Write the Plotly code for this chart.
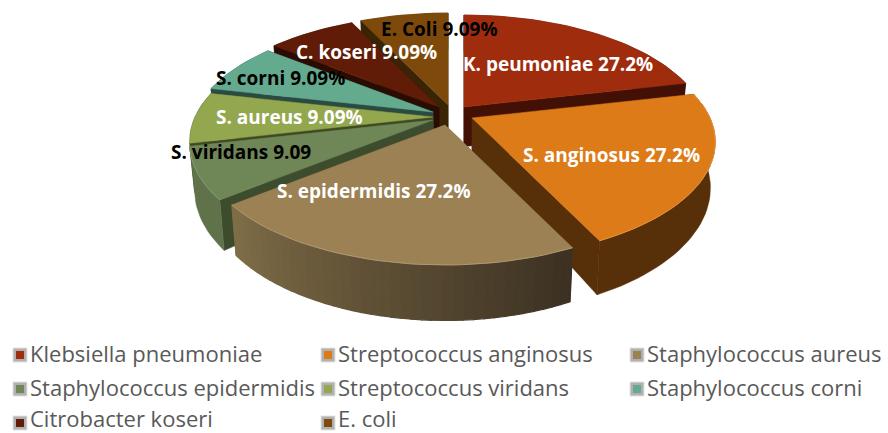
import math
import plotly.graph_objects as go

# ---- data ----
values = [27.2, 27.2, 27.2, 9.09, 9.09, 9.09, 9.09, 9.09]
slice_labels = ["K. peumoniae 27.2%", "S. anginosus 27.2%", "S. epidermidis 27.2%", "S. viridans 9.09",
                "S. aureus 9.09%", "S. corni 9.09%", "C. koseri 9.09%", "E. Coli 9.09%"]
legend_names = ["Klebsiella pneumoniae", "Streptococcus anginosus", "Staphylococcus aureus",
                "Staphylococcus epidermidis", "Streptococcus viridans", "Staphylococcus corni",
                "Citrobacter koseri", "E. coli"]

# ---- style ----
top_colors = ["#A02C0E", "#DC7B17", "#9C8154", "#6F8657", "#93A84E", "#64AA8E", "#611C08", "#7E4A0C"]
wall_colors = ["#431005", "#572F08", "#6B5A3C", "#3E4C2E", "#3F4A22", "#2B4A42", "#2A0C03", "#3A2406"]
arc_colors = ["#431005", "#572F08", None, "#5F7249", "#3F4A22", "#2B4A42", "#2A0C03", "#3A2406"]
legend_colors = ["#A02C0E", "#DC7B17", "#9C8154", "#6F8657", "#93A84E", "#64AA8E", "#611C08", "#7E4A0C"]
label_colors = ["white", "white", "white", "black", "white", "black", "white", "black"]
label_xy = [(558, 64), (611, 155), (374, 191), (241, 152), (289, 117), (280, 78), (366, 52), (439, 29)]
apex = [(464, 107), (472, 118), (445, 125), (433, 120), (433, 117), (433, 112), (439, 107), (448, 105)]
draw_order = [7, 6, 5, 4, 0, 3, 1, 2]
RX, RY, K, H, LOWER_X = 238.0, 111.0, 0.207, 44.0, 0.98
FONT_LABEL = "Open Sans"
FONT_LEGEND = "Open Sans"
LEGEND_COLS = [20, 328, 637]
LEGEND_ROWS = [355, 389, 423]
LEGEND_TEXT_ROWS = [356, 390, 421.5]


def rim(theta, lower=False):
    u, v = math.sin(theta), math.cos(theta)
    d = 1 + K * v
    return RX * u / d * (LOWER_X if lower else 1), (-RY * v + (H if lower else 0)) / d


def mix(a, b, t):
    ca = [int(a[i:i + 2], 16) for i in (1, 3, 5)]
    cb = [int(b[i:i + 2], 16) for i in (1, 3, 5)]
    return "#%02x%02x%02x" % tuple(round(x + (y - x) * t) for x, y in zip(ca, cb))


def poly(fig, pts, color, lw=0.5):
    xs = [p[0] for p in pts] + [pts[0][0]]
    ys = [p[1] for p in pts] + [pts[0][1]]
    fig.add_trace(go.Scatter(x=xs, y=ys, mode="lines", fill="toself", fillcolor=color,
                             line=dict(width=lw, color=color), hoverinfo="skip", showlegend=False))


fig = go.Figure()
total = sum(values)
starts = []
acc = 0.0
for v in values:
    starts.append(acc)
    acc += v

for i in draw_order:
    a0 = starts[i] / total * 2 * math.pi
    a1 = (starts[i] + values[i]) / total * 2 * math.pi
    cx, cy = apex[i]
    n = max(8, int((a1 - a0) / math.radians(2)))
    angles = [a0 + (a1 - a0) * j / n for j in range(n + 1)]
    apex_low = (cx, cy + H * 0.9)
    for a in (a0, a1):
        x, y = rim(a)
        xl, yl = rim(a, True)
        poly(fig, [(cx, cy), (cx + x, cy + y), (cx + xl, cy + yl), apex_low], wall_colors[i])
    if arc_colors[i]:
        upper = [(cx + rim(a)[0], cy + rim(a)[1]) for a in angles]
        lower = [(cx + rim(a, True)[0], cy + rim(a, True)[1]) for a in reversed(angles)]
        poly(fig, upper + lower, arc_colors[i])
    else:
        for j in range(n):
            b0, b1 = angles[j], angles[j + 1]
            p0, p1 = rim(b0), rim(b1)
            q0, q1 = rim(b0, True), rim(b1, True)
            col = mix("#3B3022", "#806E48", (j + .5) / n)
            poly(fig, [(cx + p0[0], cy + p0[1]), (cx + p1[0], cy + p1[1]),
                       (cx + q1[0], cy + q1[1]), (cx + q0[0], cy + q0[1])], col, lw=1.2)
    top = [(cx, cy)] + [(cx + rim(a)[0], cy + rim(a)[1]) for a in angles]
    poly(fig, top, top_colors[i])
    if i in (1, 2, 3):
        fig.add_trace(go.Scatter(x=[p[0] for p in top[1:]], y=[p[1] for p in top[1:]], mode="lines",
                                 line=dict(width=1, color=mix(top_colors[i], "#FFFFFF", 0.18)),
                                 hoverinfo="skip", showlegend=False))

for i, name in enumerate(slice_labels):
    fig.add_annotation(x=label_xy[i][0], y=label_xy[i][1], text="<b>%s</b>" % name, showarrow=False,
                       font=dict(family=FONT_LABEL, size=19, color=label_colors[i]))

for i, name in enumerate(legend_names):
    lx = LEGEND_COLS[i % 3]
    ly = LEGEND_ROWS[i // 3]
    fig.add_trace(go.Scatter(x=[lx], y=[ly], mode="markers", hoverinfo="skip", showlegend=False,
                             marker=dict(symbol="square", size=14, color="#B0B0B0",
                                         line=dict(width=1, color="#E4E4E4"))))
    fig.add_trace(go.Scatter(x=[lx], y=[ly], mode="markers", hoverinfo="skip", showlegend=False,
                             marker=dict(symbol="square", size=8, color=legend_colors[i])))
    fig.add_trace(go.Scatter(x=[lx + 10], y=[LEGEND_TEXT_ROWS[i // 3]], mode="text", text=[name],
                             textposition="middle right", hoverinfo="skip", showlegend=False, cliponaxis=False,
                             textfont=dict(family=FONT_LEGEND, size=22, color="#595959")))

fig.update_layout(width=888, height=433, margin=dict(l=0, r=0, t=0, b=0), paper_bgcolor="white",
                  plot_bgcolor="white", showlegend=False,
                  xaxis=dict(range=[0, 888], visible=False, fixedrange=True),
                  yaxis=dict(range=[433, 0], visible=False, fixedrange=True))
fig.write_html("out.html", post_script="document.body.style.margin='0';document.documentElement.style.overflow='hidden';",
               config={"displayModeBar": False})
